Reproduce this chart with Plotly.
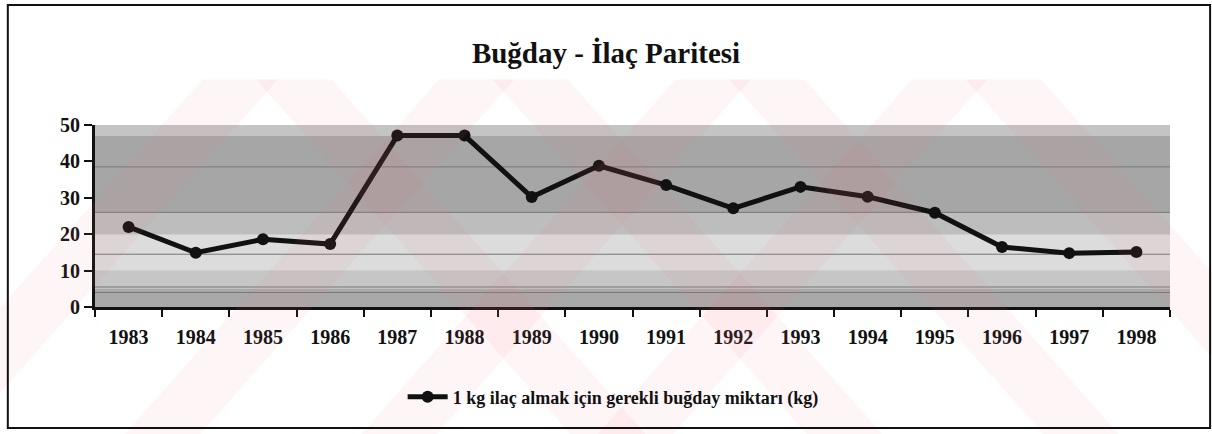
import plotly.graph_objects as go

years = ["1983", "1984", "1985", "1986", "1987", "1988", "1989", "1990",
         "1991", "1992", "1993", "1994", "1995", "1996", "1997", "1998"]
values = [22.0, 14.9, 18.6, 17.3, 47.1, 47.1, 30.2, 38.8,
          33.5, 27.1, 33.0, 30.3, 25.9, 16.5, 14.8, 15.1]
series_name = "1 kg ilaç almak için gerekli buğday miktarı (kg)"
title_text = "Buğday - İlaç Paritesi"
y_ticks = [0, 10, 20, 30, 40, 50]

# background bands (decoration imitating the scanned grey texture)
bands = [(0, 5, "#a9a9a9"), (5, 10, "#c6c6c6"), (10, 20, "#dcdcdc"),
         (20, 26, "#bdbdbd"), (26, 47, "#a6a6a6"), (47, 50, "#c4c4c4")]

font_family = "Liberation Serif, Times New Roman, serif"

fig = go.Figure()
fig.add_trace(go.Scatter(
    x=years, y=values, name=series_name, mode="lines+markers",
    line=dict(color="#111111", width=5),
    marker=dict(color="#111111", size=12, symbol="circle"),
    showlegend=True,
))

shapes = []
for y0, y1, c in bands:
    shapes.append(dict(type="rect", xref="paper", yref="y", x0=0, x1=1,
                       y0=y0, y1=y1, fillcolor=c, line=dict(width=0),
                       layer="below"))
# thin dark texture lines
for yy in [4, 5.5, 26, 38.5, 14.5]:
    shapes.append(dict(type="line", xref="paper", yref="y", x0=0, x1=1,
                       y0=yy, y1=yy, line=dict(color="#777777", width=1),
                       layer="below"))
# faint pink watermark chevrons (paper coordinates over the whole figure)
pink = "rgba(235,110,130,0.07)"
chev = [(-0.20, 0.15), (0.02, 0.37), (0.24, 0.59), (0.46, 0.81)]
for a, b in chev:
    w = 0.07
    shapes.append(dict(type="path", xref="paper", yref="paper",
                       path=f"M {a} -0.75 L {a+w} -0.75 L {a+0.3+w} 1.25 L {a+0.3} 1.25 Z",
                       fillcolor=pink, line=dict(width=0), layer="above"))
    shapes.append(dict(type="path", xref="paper", yref="paper",
                       path=f"M {b+0.3} -0.75 L {b+0.3+w} -0.75 L {b+w} 1.25 L {b} 1.25 Z",
                       fillcolor=pink, line=dict(width=0), layer="above"))
# outer frame
shapes.append(dict(type="rect", xref="paper", yref="paper",
                   x0=-0.0811, x1=1.0373, y0=-0.665, y1=1.659,
                   line=dict(color="#111111", width=2), fillcolor="rgba(0,0,0,0)",
                   layer="above"))

tick_font = dict(size=20, family=font_family, color="#111111", weight="bold")

fig.update_layout(
    width=1212, height=434,
    margin=dict(l=95, r=42, t=125, b=127),
    paper_bgcolor="white", plot_bgcolor="#bcbcbc",
    font=dict(family=font_family, color="#111111"),
    title=dict(text=title_text, x=0.5, xanchor="center",
               y=0.878, yanchor="middle",
               font=dict(size=29, family=font_family, color="#111111", weight="bold")),
    xaxis=dict(type="category", range=[-0.5, len(years) - 0.5],
               tickson="boundaries", ticks="outside",
               ticklen=7, tickwidth=2, tickcolor="#111111",
               showline=True, linecolor="#111111", linewidth=3,
               showgrid=False, zeroline=False, mirror=False,
               tickfont=tick_font, ticklabelstandoff=10),
    yaxis=dict(range=[0, 50], tickvals=y_ticks, ticks="outside",
               ticklen=8, tickwidth=2, tickcolor="#111111",
               showline=True, linecolor="#111111", linewidth=3,
               showgrid=False, zeroline=False,
               tickfont=tick_font),
    legend=dict(orientation="h", x=0.482, xanchor="center", y=-0.495,
                yanchor="middle", bgcolor="rgba(0,0,0,0)",
                font=dict(size=18, family=font_family, color="#111111", weight="bold"),
                itemwidth=40),
    shapes=shapes,
)

fig.write_html("out.html", config={"displayModeBar": False},
               post_script="document.body.style.margin='0';document.body.style.overflow='hidden';")
